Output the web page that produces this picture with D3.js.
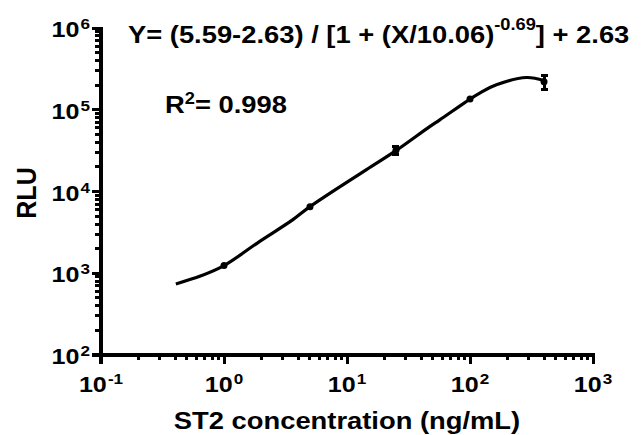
<!DOCTYPE html>
<html>
<head>
<meta charset="utf-8">
<script src="https://cdn.jsdelivr.net/npm/d3@7"></script>
<style>
  body { margin: 0; background: #fff; }
  text { font-family: "Liberation Sans", Arial, sans-serif; font-weight: bold; fill: #000; }
</style>
</head>
<body>
<svg width="642" height="435"></svg>
<script>
// measured points (mean, sd)
const pointX = [1, 5, 25, 100, 400];
const pointY = [1240, 6530, 32000, 135000, 220000];
const pointErr = [0, 0, 3600, 0, 45000];

// fitted curve
const curveX = [0.406, 0.65, 1.0, 1.94, 3.61, 5, 14.3, 25, 47, 56.8, 100, 120, 164, 288, 400];
const curveY = [740, 930, 1240, 2440, 4490, 6530, 18400, 31600, 62200, 75200, 135000, 160000, 202000, 248000, 228000];

const xDecades = [-1, 0, 1, 2, 3];
const yDecades = [2, 3, 4, 5, 6];

const svg = d3.select("svg");

// 畫布範圍
const plotLeft = 101, plotRight = 593, plotTop = 28, plotBottom = 355;
// the original text looks horizontally stretched
const sx = 1.14;

const x = d3.scaleLog().domain([0.1, 1000]).range([plotLeft, plotRight]);
const y = d3.scaleLog().domain([100, 1e6]).range([plotBottom, plotTop]);

// minor ticks 2..9 per decade
const minor = (decades) => {
    const out = [];
    decades.slice(0, -1).forEach((e) => {
        for (let k = 2; k <= 9; k++) out.push(k * Math.pow(10, e));
    });
    return out;
};

const styleAxis = (g) => {
    g.attr("fill", null);
    g.select(".domain").remove();
    g.selectAll(".tick text").remove();
    g.selectAll(".tick line")
        .attr("stroke", "#000")
        .attr("stroke-width", 3)
        .attr("shape-rendering", "crispEdges");
};

// x axis
svg.append("g")
    .attr("transform", `translate(0,${plotBottom})`)
    .call(d3.axisBottom(x).tickValues(minor(xDecades)).tickSize(5).offset(0))
    .call(styleAxis);
svg.append("g")
    .attr("transform", `translate(0,${plotBottom})`)
    .call(d3.axisBottom(x).tickValues(xDecades.map((e) => Math.pow(10, e))).tickSize(9).offset(0))
    .call(styleAxis);

// y axis
svg.append("g")
    .attr("transform", `translate(${plotLeft},0)`)
    .call(d3.axisLeft(y).tickValues(minor(yDecades)).tickSize(6).offset(0))
    .call(styleAxis);
svg.append("g")
    .attr("transform", `translate(${plotLeft},0)`)
    .call(d3.axisLeft(y).tickValues(yDecades.map((e) => Math.pow(10, e))).tickSize(9).offset(0))
    .call(styleAxis);

// axis lines
svg.append("path")
    .attr("d", `M${plotLeft - 9},${plotBottom}H${plotRight + 1.5}M${plotLeft},${plotTop - 1.5}V${plotBottom + 9}`)
    .attr("fill", "none")
    .attr("stroke", "#000")
    .attr("stroke-width", 4)
    .attr("shape-rendering", "crispEdges");

// text helper, stretched like the original
const label = (px, py, size, anchor) =>
    svg.append("text")
        .attr("transform", `translate(${px},${py}) scale(${sx},1)`)
        .attr("text-anchor", anchor || "start")
        .attr("font-size", size);

// tick labels
const pow10 = (sel, e, dy) => {
    sel.append("tspan").text("10");
    sel.append("tspan").attr("font-size", 15).attr("dy", dy).attr("dx", 1).text(e);
};

xDecades.forEach((e) => {
    label(x(Math.pow(10, e)), 392, 22, "middle").call(pow10, e, -8);
});

yDecades.forEach((e) => {
    label(90, y(Math.pow(10, e)) + 9, 22, "end").call(pow10, e, -8);
});

// curve
svg.append("path")
    .datum(curveX.map((d, i) => [d, curveY[i]]))
    .attr("fill", "none")
    .attr("stroke", "#000")
    .attr("stroke-width", 3.2)
    .attr("d", d3.line().x((d) => x(d[0])).y((d) => y(d[1])).curve(d3.curveCatmullRom.alpha(0.5)));

// error bars
const bars = svg.append("g")
    .attr("stroke", "#000")
    .attr("stroke-width", 3)
    .attr("shape-rendering", "crispEdges");
pointX.forEach((px, i) => {
    if (!pointErr[i]) return;
    const cx = x(px);
    const y0 = y(pointY[i] - pointErr[i]);
    const y1 = y(pointY[i] + pointErr[i]);
    bars.append("path")
        .attr("fill", "none")
        .attr("d", `M${cx},${y0}V${y1}M${cx - 3.5},${y0}H${cx + 3.5}M${cx - 3.5},${y1}H${cx + 3.5}`);
});

// points
svg.append("g")
    .selectAll("circle")
    .data(pointX)
    .join("circle")
    .attr("cx", (d) => x(d))
    .attr("cy", (d, i) => y(pointY[i]))
    .attr("r", 3.5)
    .attr("fill", "#000");

// equation
const eq = label(128, 43, 24);
eq.append("tspan").text("Y= (5.59-2.63) / [1 + (X/10.06)");
eq.append("tspan").attr("font-size", 16).attr("dy", -13).text("-0.69");
eq.append("tspan").attr("dy", 13).text("] + 2.63");

const r2 = label(165, 113, 24);
r2.append("tspan").text("R");
r2.append("tspan").attr("font-size", 16).attr("dy", -9).text("2");
r2.append("tspan").attr("dy", 9).text("= 0.998");

// axis titles
svg.append("text")
    .attr("transform", "translate(36,193) rotate(-90) scale(1,1.1)")
    .attr("text-anchor", "middle")
    .attr("font-size", 25)
    .text("RLU");

label(347, 429, 24, "middle").text("ST2 concentration (ng/mL)");
</script>
</body>
</html>
